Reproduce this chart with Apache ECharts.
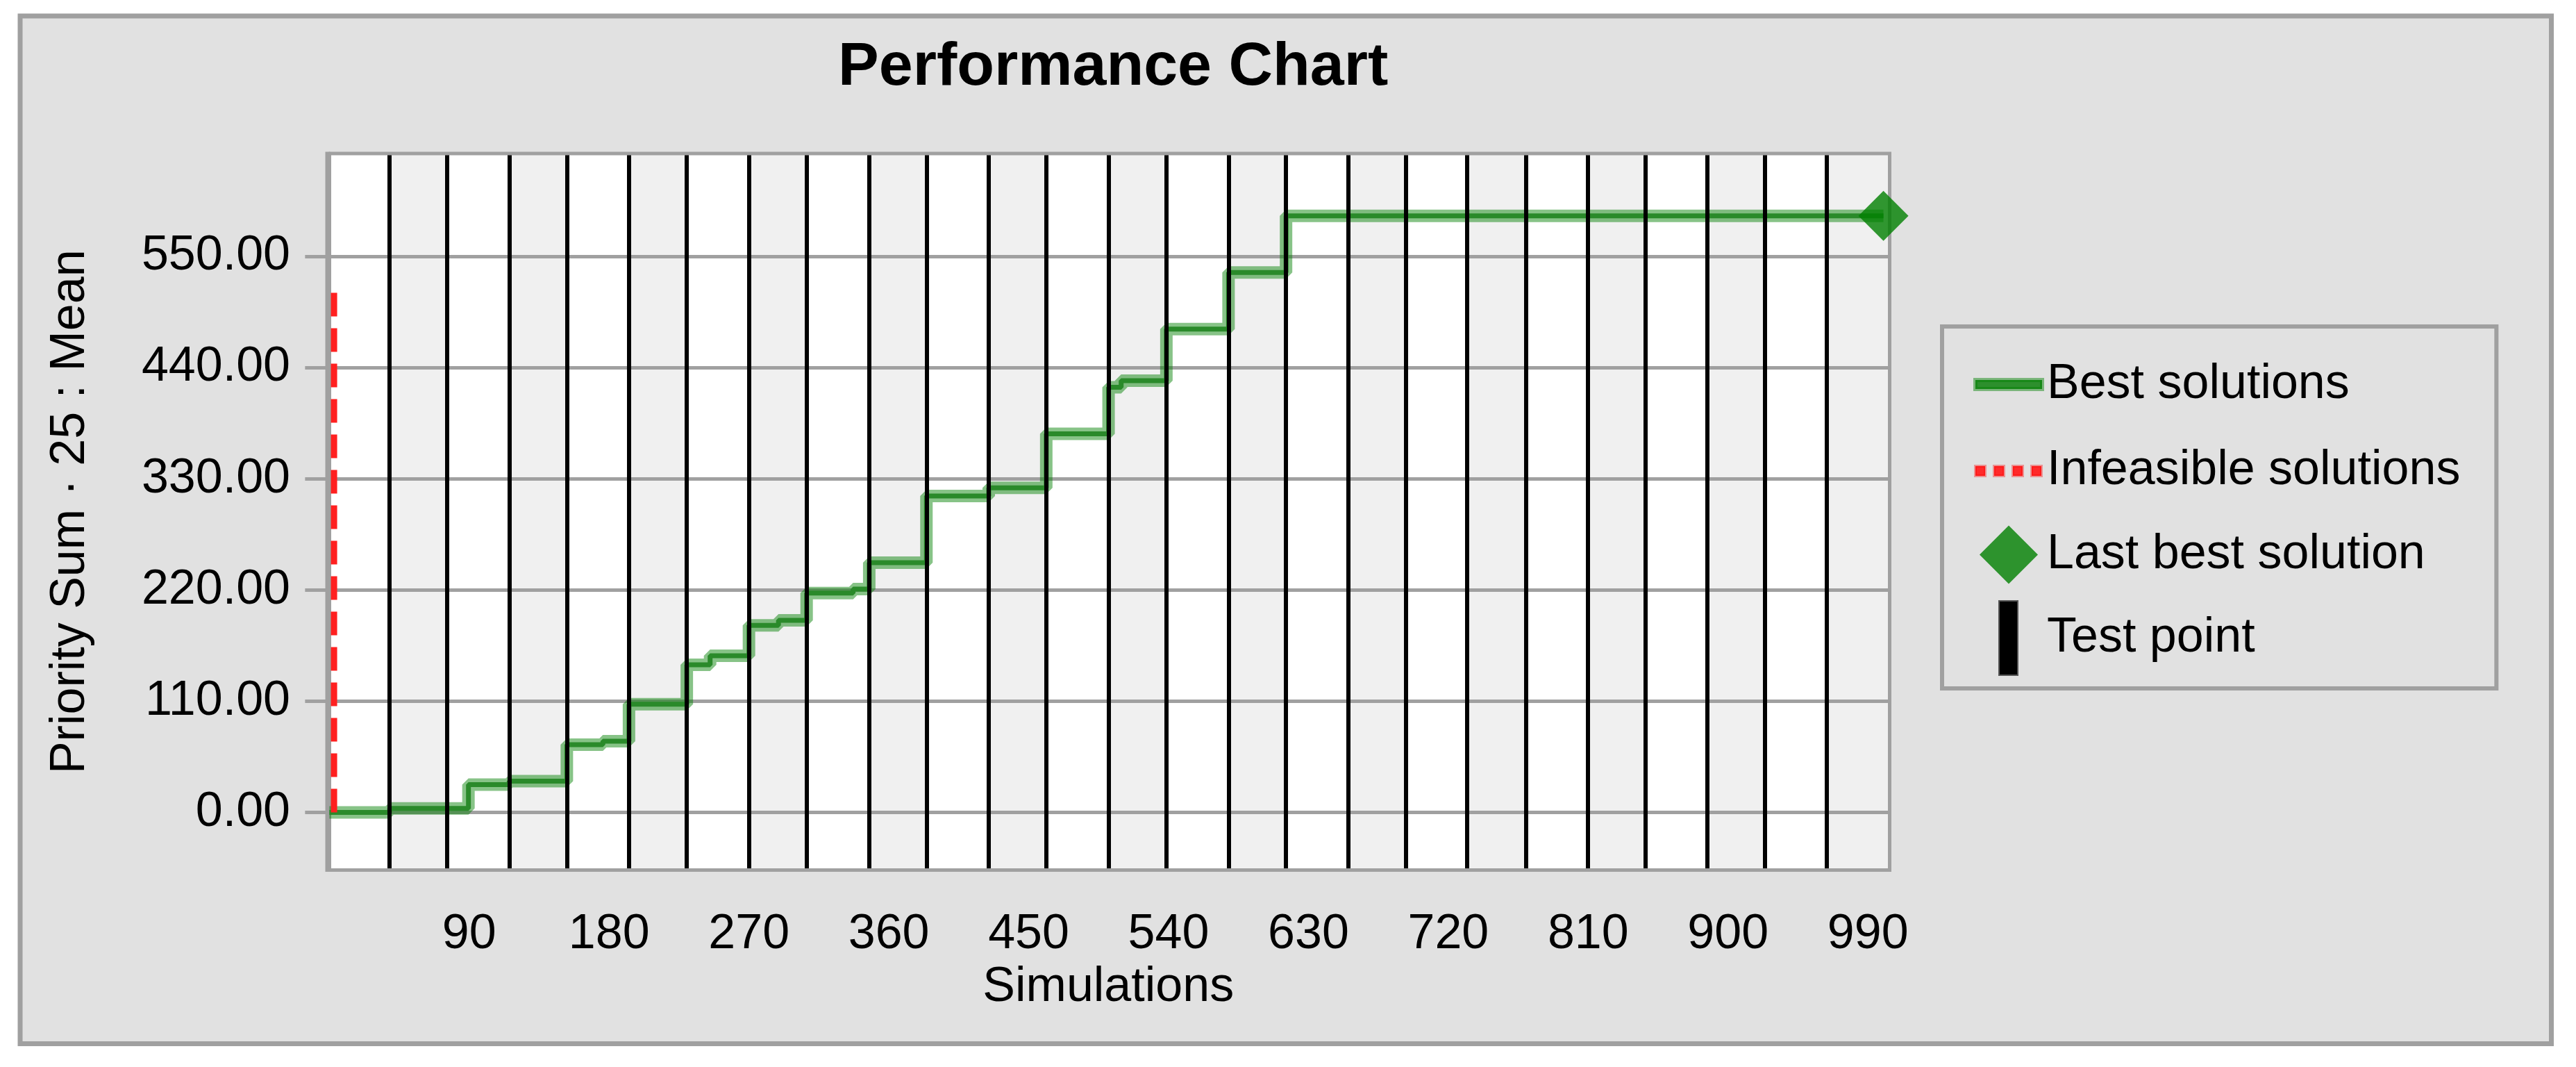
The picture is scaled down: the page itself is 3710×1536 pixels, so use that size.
<!DOCTYPE html>
<html>
<head>
<meta charset="utf-8">
<script src="https://cdn.jsdelivr.net/npm/echarts@6/dist/echarts.min.js"></script>
<style>
html,body{margin:0;padding:0;background:#ffffff;}
#chart{width:3710px;height:1536px;}
</style>
</head>
<body>
<div id="chart"></div>
<script>
// ---- data ----
const xTickLabels = [90, 180, 270, 360, 450, 540, 630, 720, 810, 900, 990];
const yTickLabels = [0, 110, 220, 330, 440, 550];

const bestX = [0, 38.8, 89.5, 115.7, 152.8, 176, 192.8, 230, 245, 270, 289, 307.1, 337, 347.4, 384.2, 424.3, 461.3, 501.4, 509.5, 538.6, 578.6, 615.6, 1000];
const bestY = [0, 4, 27.5, 31, 67, 70.5, 107, 146, 155, 185, 190, 217, 221, 247, 313, 321, 374.5, 420.5, 427, 478, 534, 590, 590];

const infeasibleX = [3, 3];
const infeasibleY = [0, 522];

const lastBestX = [1000];
const lastBestY = [590];

const testPoints = [38.8, 75.7, 115.7, 152.8, 192.8, 230, 270, 307.1, 347.4, 384.2, 424.3, 461.3, 501.4, 538.6, 578.6, 615.6, 655.5, 692.5, 731.8, 769.9, 809.9, 847, 886.7, 923.9, 963.6];

// axis extents
const X_MIN = -1.5, X_MAX = 1004;
const Y_MIN = -57, Y_MAX = 651.7;

const FONT = 'Liberation Sans';

const pairs = (xs, ys) => xs.map((x, i) => [x, ys[i]]);

// plot background (white) plus alternating grey columns between test points
const bands = [[{ xAxis: X_MIN, itemStyle: { color: '#ffffff' } }, { xAxis: X_MAX }]];
for (let i = 0; i < testPoints.length; i += 2) {
  const end = i + 1 < testPoints.length ? testPoints[i + 1] : X_MAX;
  bands.push([{ xAxis: testPoints[i], itemStyle: { color: '#f0f0f0' } }, { xAxis: end }]);
}

const chart = echarts.init(document.getElementById('chart'), null, { renderer: 'canvas' });

// legend icons share one 100x107 frame (leading moveTo points fix the frame)
const FRAME = 'path://M0,0M100,107';

const option = {
  backgroundColor: '#ffffff',
  animation: false,
  textStyle: { fontFamily: FONT },
  graphic: {
    elements: [{
      type: 'rect', z: -10, silent: true,
      shape: { x: 29, y: 23, width: 3645.5, height: 1479.5 },
      style: { fill: '#e1e1e1', stroke: '#a0a0a0', lineWidth: 7 }
    }]
  },
  title: {
    text: 'Performance Chart',
    left: 1207, top: 54, padding: 0,
    textStyle: { fontFamily: FONT, fontSize: 88, fontWeight: 'bold', color: '#000000' }
  },
  legend: {
    orient: 'vertical',
    left: 2797, top: 470,
    padding: [27, 52, 18, 43],
    itemWidth: 100, itemHeight: 107, itemGap: 12,
    backgroundColor: '#e1e1e1',
    borderColor: '#a0a0a0', borderWidth: 6, borderRadius: 0,
    selectedMode: false,
    textStyle: { fontFamily: FONT, fontSize: 70, color: '#000000' },
    data: [
      { name: 'Best solutions', icon: FRAME + 'M2,47h96v13h-96z',
        itemStyle: { color: '#2d8f2d', borderColor: 'rgba(0,128,0,0.45)', borderWidth: 6 } },
      { name: 'Infeasible solutions', icon: FRAME + 'M2,47h14v14h-14zM29,47h14v14h-14zM56,47h14v14h-14zM83,47h14v14h-14z',
        itemStyle: { color: '#ff2a2a', borderColor: 'rgba(255,0,0,0.35)', borderWidth: 4 } },
      { name: 'Last best solution', icon: FRAME + 'M50,11.5L92,53.5L50,95.5L8,53.5Z',
        itemStyle: { color: '#008000', borderWidth: 0 } },
      { name: 'Test point', icon: FRAME + 'M36,0h27v107h-27z',
        itemStyle: { color: '#000000', borderColor: '#555555', borderWidth: 2 } }
    ]
  },
  grid: {
    left: 471, top: 221, right: 3710 - 2721.5, bottom: 1536 - 1252.5,
    containLabel: false, outerBoundsMode: 'none',
    show: true, z: 6,
    backgroundColor: 'transparent', borderColor: '#a0a0a0', borderWidth: 5
  },
  xAxis: {
    type: 'value', min: X_MIN, max: X_MAX,
    name: 'Simulations', nameLocation: 'middle', nameGap: 134,
    nameTextStyle: { fontFamily: FONT, fontSize: 70, color: '#000000' },
    axisLine: { show: true, lineStyle: { color: '#a0a0a0', width: 5 } },
    axisTick: { show: true, customValues: xTickLabels, length: 35.5, lineStyle: { color: '#a0a0a0', width: 6 } },
    axisLabel: { customValues: xTickLabels, margin: 58, fontFamily: FONT, fontSize: 70, color: '#000000' },
    splitLine: { show: false }
  },
  yAxis: {
    type: 'value', min: Y_MIN, max: Y_MAX, z: 1.2,
    name: 'Priority Sum · 25 : Mean', nameLocation: 'middle', nameGap: 334, nameRotate: 90,
    nameTextStyle: { fontFamily: FONT, fontSize: 70, color: '#000000' },
    axisLine: { show: true, lineStyle: { color: '#a0a0a0', width: 5 } },
    axisTick: { show: true, customValues: yTickLabels, length: 35, lineStyle: { color: '#a0a0a0', width: 5 } },
    axisLabel: { customValues: yTickLabels, margin: 53, fontFamily: FONT, fontSize: 70, color: '#000000',
      formatter: v => Number(v).toFixed(2) },
    splitLine: { show: true, lineStyle: { color: '#a0a0a0', width: 5 } }
  },
  series: [
    {
      name: 'Test point', type: 'line', data: [], symbol: 'none',
      itemStyle: { color: '#000000' },
      markArea: { silent: true, z: 1, label: { show: false }, itemStyle: { color: '#f0f0f0', borderWidth: 0 }, data: bands },
      markLine: {
        silent: true, z: 5, symbol: ['none', 'none'], label: { show: false },
        lineStyle: { color: '#000000', width: 6, type: 'solid' },
        emphasis: { disabled: true },
        data: testPoints.map(v => ({ xAxis: v }))
      }
    },
    {
      name: 'Best solutions halo', type: 'line', step: 'end', z: 2, silent: true,
      symbol: 'none', showSymbol: false,
      lineStyle: { color: 'rgba(0,128,0,0.47)', width: 18 },
      data: pairs(bestX, bestY)
    },
    {
      name: 'Best solutions', type: 'line', step: 'end', z: 3,
      symbol: 'none', showSymbol: false,
      itemStyle: { color: '#2d8f2d' },
      lineStyle: { color: '#2a8a2a', width: 7 },
      data: pairs(bestX, bestY)
    },
    {
      name: 'Infeasible solutions', type: 'line', z: 3,
      symbol: 'none', showSymbol: false,
      itemStyle: { color: '#ff2a2a' },
      lineStyle: { color: '#ff2020', width: 9, type: [34, 17] },
      data: pairs(infeasibleX, infeasibleY)
    },
    {
      name: 'Last best solution', type: 'scatter', z: 8, clip: false,
      symbol: 'diamond', symbolSize: 72,
      itemStyle: { color: '#008000' },
      data: pairs(lastBestX, lastBestY)
    }
  ]
};

chart.setOption(option);
</script>
</body>
</html>
